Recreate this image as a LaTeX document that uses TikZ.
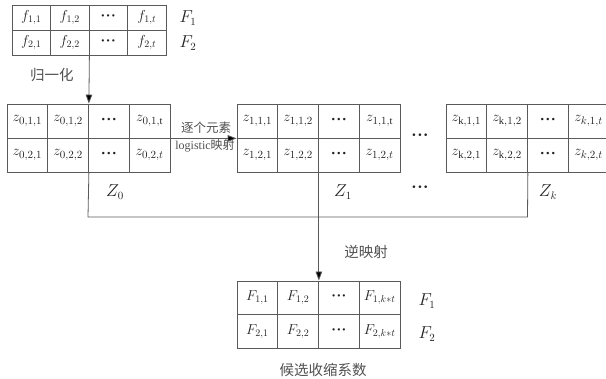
\documentclass[tikz,border=0pt]{standalone}
\usepackage{fontspec}
\setmainfont{Liberation Serif}
\newfontfamily\cjk{Noto Sans CJK SC}
\usetikzlibrary{arrows.meta}
\definecolor{ln}{HTML}{5A5A5A}
\definecolor{tx}{HTML}{222222}
\definecolor{lb}{HTML}{505050}
\newcommand\dts{\textbf{\char"00B7\kern0.5pt\char"00B7\kern0.5pt\char"00B7}}
\begin{document}
\begin{tikzpicture}[x=1pt,y=-1pt,
  cellf/.style={draw=ln,line width=0.8pt,minimum width=38.5pt,minimum height=25pt,inner sep=0pt,text=tx,font=\fontsize{14}{14}\selectfont},
  cellz/.style={draw=ln,line width=0.8pt,minimum width=40.75pt,minimum height=34pt,inner sep=0pt,text=tx,font=\fontsize{15}{15}\selectfont},
  cellF/.style={draw=ln,line width=0.8pt,minimum width=40.75pt,minimum height=33.5pt,inner sep=0pt,text=tx,font=\fontsize{14}{14}\selectfont},
  lab/.style={text=tx,inner sep=0pt,font=\fontsize{16}{16}\selectfont},
  cn/.style={text=lb,inner sep=0pt,font=\cjk\fontsize{14.5}{14.5}\selectfont},
  cns/.style={text=lb,inner sep=0pt,font=\cjk\fontsize{12.5}{12.5}\selectfont},
  conn/.style={draw=ln,line width=0.8pt},
  arr/.style={conn,-{Triangle[length=9pt,width=6.5pt,fill=black]}}]
\clip (0,0) rectangle (606,379);
\useasboundingbox (0,0) rectangle (606,379);
% top table
\node[cellf] (t11) at (31.25,17.5) {$f_{1,1}$};
\node[cellf] (t12) at (69.75,17.5) {$f_{1,2}$};
\node[cellf] (t13) at (108.25,17.5) {\dts};
\node[cellf] (t14) at (146.75,17.5) {$f_{1,t}$};
\node[cellf] (t21) at (31.25,42.5) {$f_{2,1}$};
\node[cellf] (t22) at (69.75,42.5) {$f_{2,2}$};
\node[cellf] (t23) at (108.25,42.5) {\dts};
\node[cellf] (t24) at (146.75,42.5) {$f_{2,t}$};
\node[lab] (tF1) at (188,18) {$F_1$};
\node[lab] (tF2) at (188,43) {$F_2$};
\node[cn] (norm) at (52,75) {归一化};
% Z0
\node[cellz] (a11) at (27.4,121) {$z_{0,1,1}$};
\node[cellz] (a12) at (68.1,121) {$z_{0,1,2}$};
\node[cellz] (a13) at (108.9,121) {\dts};
\node[cellz] (a14) at (149.6,121) {$z_{0,1,\mathrm{t}}$};
\node[cellz] (a21) at (27.4,155) {$z_{0,2,1}$};
\node[cellz] (a22) at (68.1,155) {$z_{0,2,2}$};
\node[cellz] (a23) at (108.9,155) {\dts};
\node[cellz] (a24) at (149.6,155) {$z_{0,2,t}$};
\node[lab] (Z0) at (115,192) {$Z_0$};
% Z1
\node[cellz] (b11) at (257.4,121) {$z_{1,1,1}$};
\node[cellz] (b12) at (298.1,121) {$z_{1,1,2}$};
\node[cellz] (b13) at (338.9,121) {\dts};
\node[cellz] (b14) at (379.6,121) {$z_{1,1,\mathrm{t}}$};
\node[cellz] (b21) at (257.4,155) {$z_{1,2,1}$};
\node[cellz] (b22) at (298.1,155) {$z_{1,2,2}$};
\node[cellz] (b23) at (338.9,155) {\dts};
\node[cellz] (b24) at (379.6,155) {$z_{1,2,t}$};
\node[lab] (Z1) at (343,192) {$Z_1$};
% Zk
\node[cellz] (c11) at (466.4,121) {$z_{\mathrm{k},1,1}$};
\node[cellz] (c12) at (507.1,121) {$z_{\mathrm{k},1,2}$};
\node[cellz] (c13) at (547.9,121) {\dts};
\node[cellz] (c14) at (588.6,121) {$z_{k,1,t}$};
\node[cellz] (c21) at (466.4,155) {$z_{\mathrm{k},2,1}$};
\node[cellz] (c22) at (507.1,155) {$z_{\mathrm{k},2,2}$};
\node[cellz] (c23) at (547.9,155) {\dts};
\node[cellz] (c24) at (588.6,155) {$z_{k,2,t}$};
\node[lab] (Zk) at (548,192) {$Z_k$};
\node[lab] (d1) at (420,137) {\dts};
\node[lab] (d2) at (420,189) {\dts};
% logistic labels
\node[cns] (l1) at (206,128) {逐个元素};
\node[cns,font=\cjk\fontsize{12}{12}\selectfont] (l2) at (205,146) {{\rmfamily logistic}映射};
% F table
\node[cellF] (f11) at (257.4,297.75) {$F_{1,1}$};
\node[cellF] (f12) at (298.1,297.75) {$F_{1,2}$};
\node[cellF] (f13) at (338.9,297.75) {\dts};
\node[cellF] (f14) at (379.6,297.75) {$F_{1,k*t}$};
\node[cellF] (f21) at (257.4,331.25) {$F_{2,1}$};
\node[cellF] (f22) at (298.1,331.25) {$F_{2,2}$};
\node[cellF] (f23) at (338.9,331.25) {\dts};
\node[cellF] (f24) at (379.6,331.25) {$F_{2,k*t}$};
\node[lab] (bF1) at (427,301) {$F_1$};
\node[lab] (bF2) at (427,334) {$F_2$};
\node[cn] (inv) at (366,252) {逆映射};
\node[cn] (cand) at (323,370) {候选收缩系数};
% connectors
\coordinate (bl) at (88,217);
\coordinate (br) at (527.5,217);
\draw[arr] (t22.south east) -- (a12.north east);
\draw[arr] (a14.south east) -- (b11.south west);
\draw[conn] (a22.south east) -- (bl) -- (br) -- (c22.south east);
\draw[arr] (b22.south east) -- (f12.north east);
\end{tikzpicture}
\end{document}
